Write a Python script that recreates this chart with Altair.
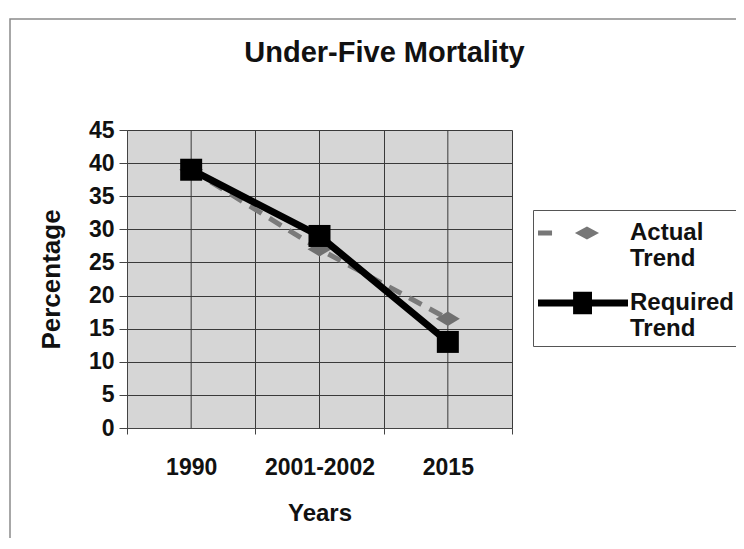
import altair as alt
import pandas as pd

# ---- data ----
categories = ["1990", "2001-2002", "2015"]
actual_values = [39, 27, 16.5]
required_values = [39, 29, 13]
series_names = ["Actual Trend", "Required Trend"]
y_ticks = [0, 5, 10, 15, 20, 25, 30, 35, 40, 45]

rows = []
for s, vals in zip(series_names, [actual_values, required_values]):
    for c, v in zip(categories, vals):
        rows.append({"series": s, "year": c, "value": v})
df = pd.DataFrame(rows)
cat_df = pd.DataFrame({"year": categories})
frame_df = pd.DataFrame({"k": [0]})

W, H = 385, 298
FONT = "Liberation Sans"
GRID = "#3a3a3a"

x_scale = alt.Scale(type="band", domain=categories, paddingInner=0, paddingOuter=0)
y_scale = alt.Scale(domain=[0, 45], nice=False)

x_axis = alt.Axis(
    title="Years",
    tickBand="extent",
    labelAngle=0,
    labelFont=FONT,
    labelFontSize=23,
    labelFontWeight="bold",
    labelColor="#111",
    labelPadding=22,
    tickSize=6,
    tickColor="#444",
    domainColor="#444",
    grid=True,
    gridColor=GRID,
    gridOpacity=1,
    titleFont=FONT,
    titleFontSize=24,
    titleFontWeight="bold",
    titleColor="#111",
    titlePadding=22,
)
x_enc = alt.X("year:N", scale=x_scale, sort=categories, axis=x_axis)
y_enc = alt.Y(
    "value:Q",
    scale=y_scale,
    axis=alt.Axis(
        title="Percentage",
        values=y_ticks,
        labelFont=FONT,
        labelFontSize=23,
        labelFontWeight="bold",
        labelColor="#111",
        labelPadding=5,
        tickSize=8,
        tickColor="#444",
        domainColor="#444",
        grid=True,
        gridColor=GRID,
        gridOpacity=1,
        titleFont=FONT,
        titleFontSize=26,
        titleFontWeight="bold",
        titleColor="#111",
        titlePadding=24,
    ),
)

# outer chart frame
frame = alt.Chart(frame_df).mark_rect(fillOpacity=0, stroke="#8a8a8a", strokeWidth=1.5).encode(
    x=alt.value(-117), y=alt.value(-111), x2=alt.value(700), y2=alt.value(700)
)

# extra vertical grid lines at category centres
center_rules = alt.Chart(cat_df).mark_rule(color=GRID, strokeWidth=1).encode(
    x=x_enc,
    y=alt.value(0),
    y2=alt.value(H),
)

actual = df[df.series == "Actual Trend"]
required = df[df.series == "Required Trend"]

actual_line = alt.Chart(actual).mark_line(
    color="#7a7a7a", strokeWidth=5, strokeDash=[14, 9]
).encode(x=x_enc, y=y_enc)

DIAMOND = "M-1,0 L0,-0.6 L1,0 L0,0.6 Z"
actual_pts = alt.Chart(actual).mark_point(
    filled=True, shape=DIAMOND, size=576, color="#707070", opacity=1
).encode(x=x_enc, y=y_enc)

required_line = alt.Chart(required).mark_line(color="#000000", strokeWidth=7).encode(
    x=x_enc, y=y_enc
)
required_pts = alt.Chart(required).mark_point(
    filled=True, shape="square", size=484, color="#000000", opacity=1
).encode(x=x_enc, y=y_enc)

# legend symbols (line + marker) in units of an 18px radius symbol
LEG_ACTUAL = (
    "M-1,-0.14 L-0.22,-0.14 L-0.22,0.14 L-1,0.14 Z "
    "M1.05,0 L1.72,-0.36 L2.39,0 L1.72,0.36 Z"
)
LEG_REQUIRED = (
    "M-1,-0.19 L4,-0.19 L4,0.19 L-1,0.19 Z "
    "M0.95,-0.62 L2.0,-0.62 L2.0,0.62 L0.95,0.62 Z"
)

legend = alt.Legend(
    title=None,
    orient="none",
    legendX=406,
    legendY=80,
    fillColor="#ffffff",
    strokeColor="#555555",
    padding=5,
    symbolSize=1296,
    symbolStrokeWidth=0,
    symbolOpacity=1,
    labelOffset=56,
    labelFont=FONT,
    labelFontSize=24,
    labelFontWeight="bold",
    labelColor="#111",
    labelExpr="split(datum.label, ' ')",
    labelLimit=300,
    rowPadding=14,
)

legend_layer = alt.Chart(df).mark_point(filled=True, opacity=0).encode(
    x=x_enc,
    y=y_enc,
    shape=alt.Shape(
        "series:N",
        scale=alt.Scale(domain=series_names, range=[LEG_ACTUAL, LEG_REQUIRED]),
        legend=legend,
    ),
    color=alt.Color(
        "series:N",
        scale=alt.Scale(domain=series_names, range=["#777777", "#000000"]),
        legend=legend,
    ),
)

chart = (
    alt.layer(frame, center_rules, actual_line, actual_pts, required_line, required_pts, legend_layer)
    .properties(
        width=W,
        height=H,
        autosize=alt.AutoSizeParams(type="none"),
        padding={"left": 119, "top": 122, "right": 224, "bottom": 110},
        title=alt.TitleParams(
            "Under-Five Mortality",
            font=FONT,
            fontSize=29,
            fontWeight="bold",
            color="#111",
            anchor="middle",
            frame="group",
            dx=65,
            offset=0,
            dy=50,
        ),
        background="#ffffff",
    )
    .configure_view(fill="#d6d6d6", strokeWidth=0)
)

chart.save("out.html", embed_options={"renderer": "svg", "actions": False})
